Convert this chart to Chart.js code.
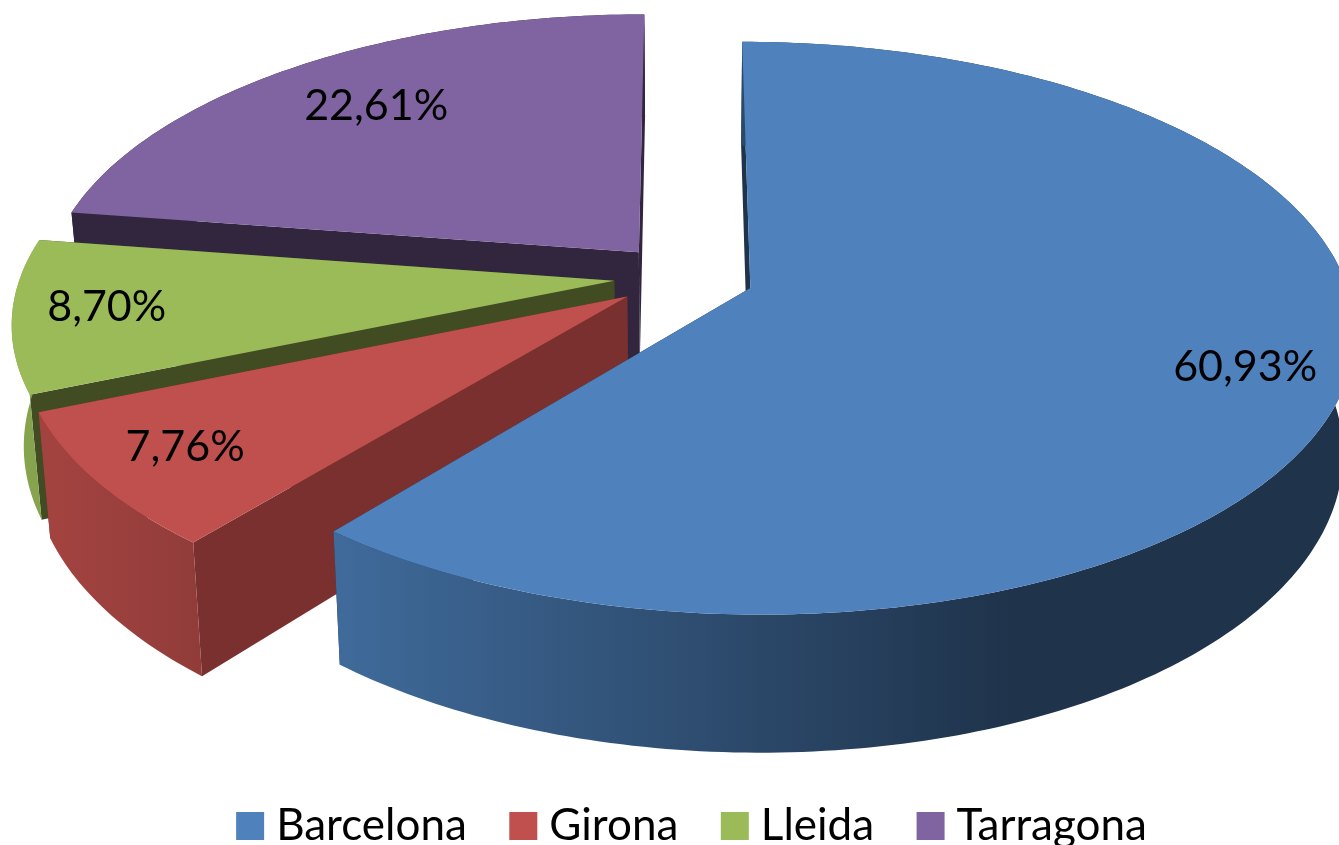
<!DOCTYPE html>
<html>
<head>
<meta charset="utf-8">
<style>
  html, body { margin: 0; background: #fff; overflow: hidden; }
  canvas { display: block; }
</style>
<script src="https://cdn.jsdelivr.net/npm/chart.js@4/dist/chart.umd.min.js"></script>
</head>
<body>
<canvas id="pie" width="1339" height="845"></canvas>
<script>
const categories = ['Barcelona', 'Girona', 'Lleida', 'Tarragona'];
const shares = [60.93, 7.76, 8.70, 22.61];

const topColors = ['#4f81bd', '#c0504d', '#9bbb59', '#8064a2'];
const edgeColors = ['#1f334b', '#7a302e', '#414c22', '#32263f'];
const rimLeftColors = ['#3f6a9a', '#a34340', '#86a34d', '#32263f'];
const rimRightColors = ['#1f334b', '#913c3a', '#86a34d', '#32263f'];
const rimLeftX = [340, 50, 20, 75];
const rimRightX = [1010, 200, 45, 640];

const labelRadius = [0.84, 0.845, 0.845, 0.75];

// perspective of the tilted pie: disc coordinates go in, canvas pixels come out
const view = { x0: 684, y0: 276.8, a: 594, b: 277.6, k: 0.14, depth: 118, shrink: 0.982, explode: 0.118 };
const legendTop = 751.5;

function project(u, v) {
    const w = 1 - view.k * v;
    return [view.x0 + view.a * u / w, view.y0 + view.b * v / w];
}

function projectLow(u, v) {
    const p = project(u, v);
    return [view.x0 + (p[0] - view.x0) * view.shrink, p[1] + view.depth / (1 - view.k * v)];
}

function fillPoly(ctx, points, style) {
    ctx.beginPath();
    points.forEach((p, i) => i ? ctx.lineTo(p[0], p[1]) : ctx.moveTo(p[0], p[1]));
    ctx.closePath();
    ctx.fillStyle = style;
    ctx.fill();
}

const pie3d = {
    id: 'pie3d',
    afterLayout(chart) {
        // legend padding is big for the gaps between items, keep the row at the bottom edge
        chart.legend.top = legendTop;
        chart.legend.bottom = legendTop + chart.legend.height;
    },
    beforeDatasetDraw(chart) {
        const ctx = chart.ctx;
        const arcs = chart.getDatasetMeta(0).data;
        // back slices first, Barcelona goes on top of everything
        [3, 2, 1, 0].forEach(i => {
            const { startAngle, endAngle } = arcs[i].getProps(['startAngle', 'endAngle'], true);
            const mid = (startAngle + endAngle) / 2;
            const cu = view.explode * Math.cos(mid);
            const cv = view.explode * Math.sin(mid);

            const rim = [];
            const steps = Math.ceil((endAngle - startAngle) * 60);
            for (let s = 0; s <= steps; s++) {
                const a = startAngle + (endAngle - startAngle) * s / steps;
                rim.push([cu + Math.cos(a), cv + Math.sin(a)]);
            }
            const first = rim[0];
            const last = rim[rim.length - 1];

            // cut faces
            [first, last].forEach(p => {
                fillPoly(ctx, [project(cu, cv), project(p[0], p[1]), projectLow(p[0], p[1]), projectLow(cu, cv)], edgeColors[i]);
            });

            // outer wall
            const grad = ctx.createLinearGradient(rimLeftX[i], 0, rimRightX[i], 0);
            grad.addColorStop(0, rimLeftColors[i]);
            grad.addColorStop(1, rimRightColors[i]);
            const wall = rim.map(p => project(p[0], p[1]));
            rim.slice().reverse().forEach(p => wall.push(projectLow(p[0], p[1])));
            fillPoly(ctx, wall, grad);

            // top face
            const face = [project(cu, cv)];
            rim.forEach(p => face.push(project(p[0], p[1])));
            fillPoly(ctx, face, arcs[i].options.backgroundColor);
        });

        ctx.save();
        ctx.font = '43px Lato';
        ctx.fillStyle = '#000';
        ctx.textAlign = 'center';
        ctx.textBaseline = 'middle';
        arcs.forEach((arc, i) => {
            const { startAngle, endAngle } = arc.getProps(['startAngle', 'endAngle'], true);
            const mid = (startAngle + endAngle) / 2;
            const r = view.explode + labelRadius[i];
            const p = project(r * Math.cos(mid), r * Math.sin(mid));
            ctx.fillText(shares[i].toFixed(2).replace('.', ',') + '%', p[0], p[1] - 3);
        });
        ctx.restore();
        return false;
    }
};

new Chart(document.getElementById('pie'), {
    type: 'pie',
    data: {
        labels: categories,
        datasets: [{
            data: shares,
            backgroundColor: topColors,
            borderWidth: 0
        }]
    },
    options: {
        responsive: false,
        animation: false,
        layout: { padding: { left: 54 } },
        plugins: {
            tooltip: { enabled: false },
            legend: {
                position: 'bottom',
                labels: {
                    usePointStyle: true,
                    pointStyle: 'rect',
                    boxWidth: 8,
                    boxHeight: 28,
                    padding: 52.5,
                    color: '#000',
                    font: { family: 'Lato', size: 44 }
                }
            }
        }
    },
    plugins: [pie3d]
});
</script>
</body>
</html>
